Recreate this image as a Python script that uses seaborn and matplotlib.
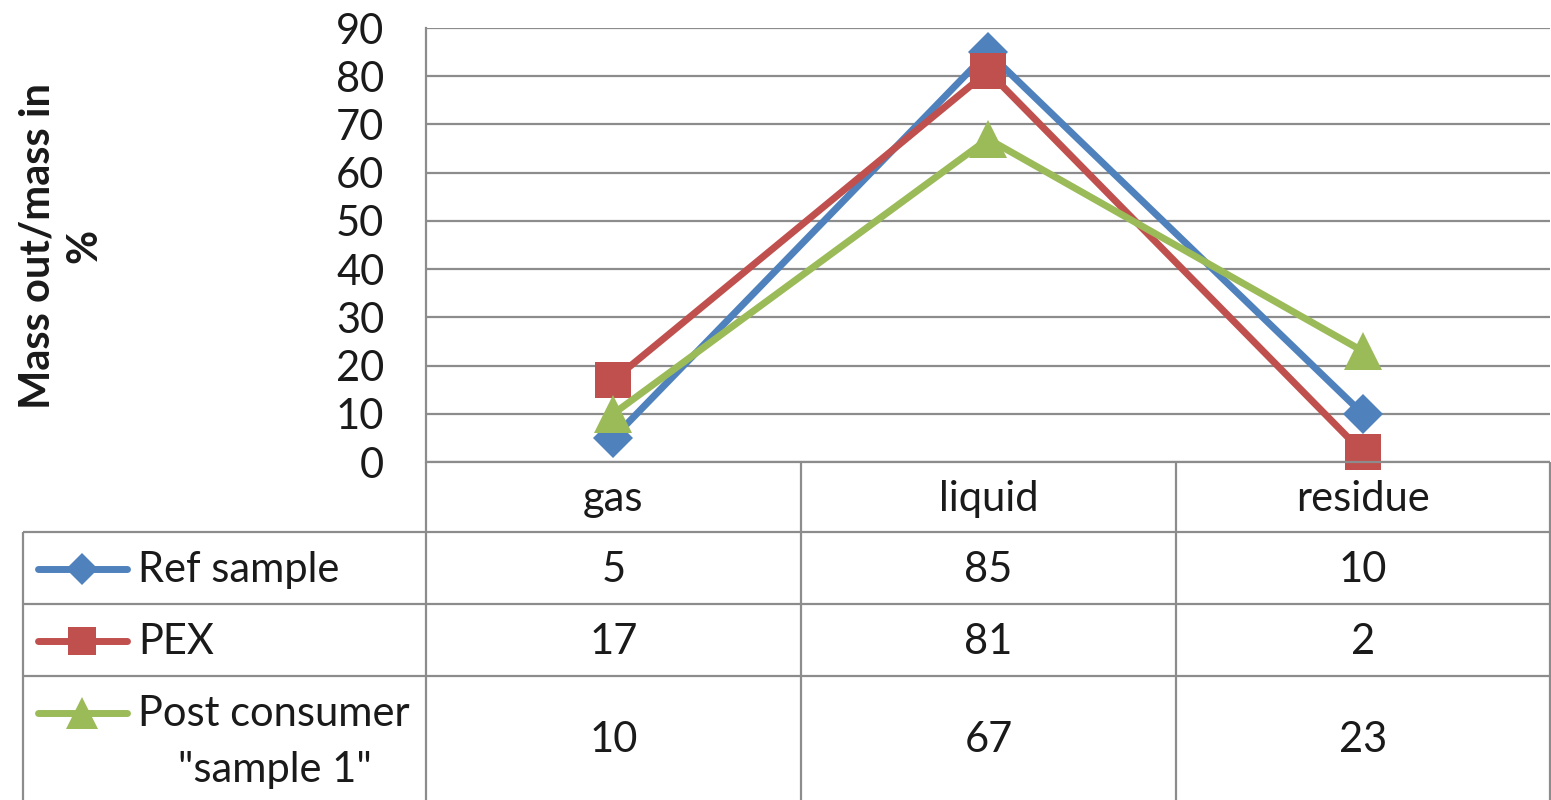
import pandas as pd
import numpy as np
from matplotlib import pyplot as plt
import seaborn as sns

categories = ["gas", "liquid", "residue"]
series_names = ["Ref sample", "PEX", "Post consumer\n\"sample 1\""]
ref_sample = [5, 85, 10]
pex = [17, 81, 2]
post_consumer = [10, 67, 23]
y_ticks = [0, 10, 20, 30, 40, 50, 60, 70, 80, 90]

colors = ["#4F81BD", "#C0504D", "#9BBB59"]
markers = ["D", "s", "^"]
marker_sizes = [20, 26, 28]
grid_color = "#8c8c8c"
txt_color = "#1a1a1a"
fs = 30

sns.set_style("white")
plt.rcParams["font.family"] = ["Lato", "DejaVu Sans"]

W, H = 1551, 800
fig = plt.figure(figsize=(W / 100, H / 100), dpi=100)

# plot area in pixel coords of the reference
px_left, px_right, px_top, px_bottom = 426, 1550, 28, 462
ax = fig.add_axes([px_left / W, 1 - px_bottom / H,
                   (px_right - px_left) / W, (px_bottom - px_top) / H])

values = [ref_sample, pex, post_consumer]
df = pd.DataFrame({
    "cat": np.tile(np.arange(len(categories)), len(series_names)),
    "val": np.concatenate(values),
    "series": np.repeat(series_names, len(categories)),
})

for name, col, mk, ms in zip(series_names, colors, markers, marker_sizes):
    sns.lineplot(data=df[df["series"] == name], x="cat", y="val", ax=ax,
                 color=col, marker=mk, markersize=ms, markeredgecolor=col,
                 markeredgewidth=0, linewidth=5, legend=False, zorder=3,
                 clip_on=False)

ax.set_xlim(-0.5, len(categories) - 0.5)
ax.set_ylim(0, 90)
ax.set_yticks(y_ticks)
ax.set_yticklabels([str(t) for t in y_ticks], fontsize=fs, color=txt_color)
ax.set_xticks([])
ax.tick_params(axis="y", length=0, pad=30)
for t in y_ticks:
    ax.axhline(t, color=grid_color, linewidth=1.6, zorder=1)
for s in ["top", "right", "bottom"]:
    ax.spines[s].set_visible(False)
ax.spines["left"].set_color(grid_color)
ax.spines["left"].set_linewidth(1.6)
ax.set_xlabel("")
ax.set_ylabel("")

fig.text(61 / W, 1 - 246 / H, "Mass out/mass in\n%", rotation=90,
         ha="center", va="center", fontsize=30, fontweight="bold",
         linespacing=1.3, color=txt_color)

# data table below the plot, in pixel coords
tab = fig.add_axes([0, 0, 1, 1], facecolor="none")
tab.set_xlim(0, W)
tab.set_ylim(H, 0)
tab.axis("off")

col_edges = [px_left, 801, 1176, px_right]
row_edges = [px_bottom, 532, 604, 676, 800]
col_centers = [(a + b) / 2 for a, b in zip(col_edges[:-1], col_edges[1:])]

lw = 1.6
tab.hlines(px_bottom, px_left, px_right, color=grid_color, lw=lw)
for y in row_edges[1:-1]:
    tab.hlines(y, 23, px_right, color=grid_color, lw=lw)
for x in col_edges:
    tab.vlines(x, px_bottom, H, color=grid_color, lw=lw)
tab.vlines(23, row_edges[1], H, color=grid_color, lw=lw)

for cx, c in zip(col_centers, categories):
    tab.text(cx, 499, c, ha="center", va="center", fontsize=fs,
             color=txt_color)

for i, (name, vals, col, mk, ms) in enumerate(
        zip(series_names, values, colors, markers, marker_sizes)):
    cy = (row_edges[i + 1] + row_edges[i + 2]) / 2
    for cx, v in zip(col_centers, vals):
        tab.text(cx, cy + 2, str(v), ha="center", va="center", fontsize=fs,
                 color=txt_color)
    key_y = row_edges[i + 1] + 37
    tab.plot([38, 127], [key_y, key_y], color=col, lw=5,
             solid_capstyle="round")
    tab.plot([82], [key_y], marker=mk, markersize=ms * 0.8, color=col,
             markeredgewidth=0)
    if "\n" in name:
        first, second = name.split("\n")
        tab.text(138, key_y + 1, first, ha="left", va="center", fontsize=fs,
                 color=txt_color)
        tab.text(275, key_y + 57, second, ha="center", va="center",
                 fontsize=fs, color=txt_color)
    else:
        tab.text(138, key_y + 1, name, ha="left", va="center", fontsize=fs,
                 color=txt_color)

fig.savefig("out.png", dpi=100)
